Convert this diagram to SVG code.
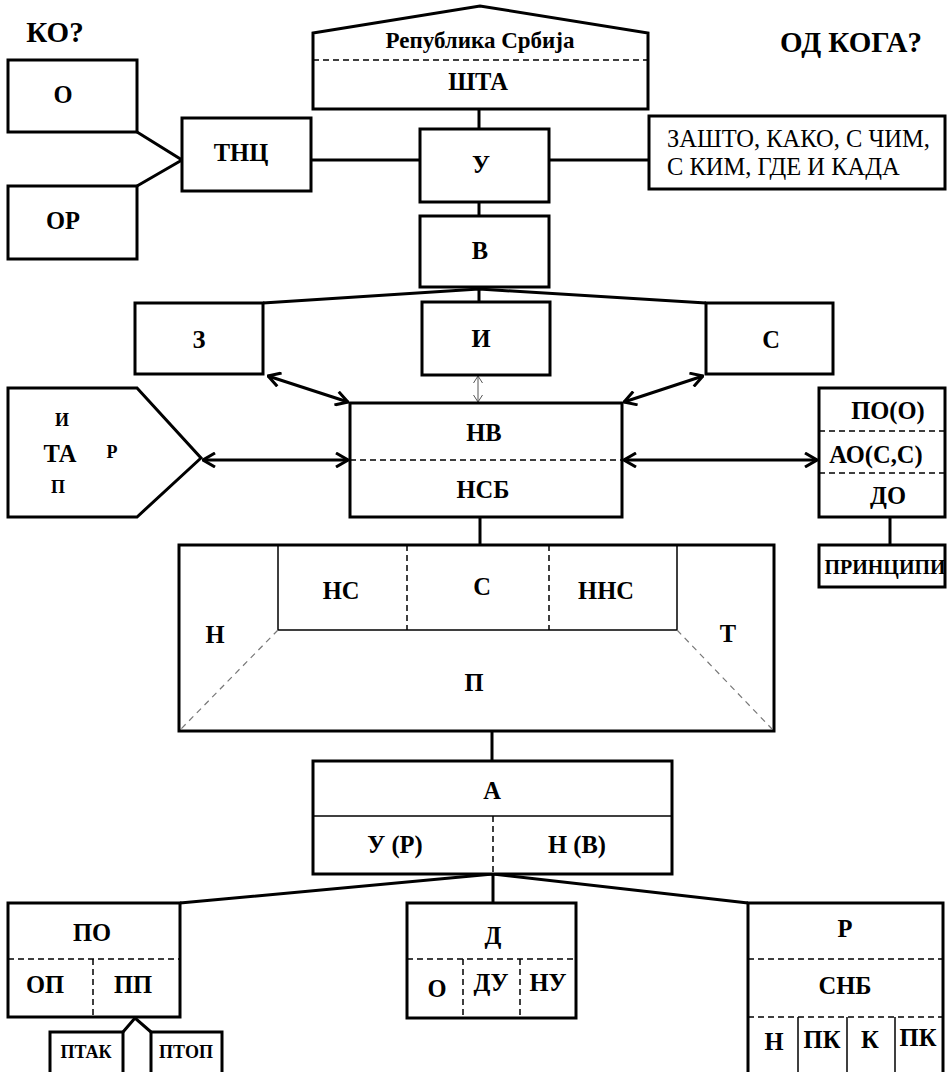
<svg xmlns="http://www.w3.org/2000/svg" width="948" height="1072" viewBox="0 0 948 1072">
<defs>
<style>
.box{fill:#fff;stroke:#000;stroke-width:3;stroke-linejoin:miter}
.thin{fill:none;stroke:#000;stroke-width:1.5}
.dash{fill:none;stroke:#000;stroke-width:1.5;stroke-dasharray:6 4}
.gdash{fill:none;stroke:#777;stroke-width:1.2;stroke-dasharray:6 5}
.conn{fill:none;stroke:#000;stroke-width:3}
.arr{fill:none;stroke:#000;stroke-width:3;marker-start:url(#ah);marker-end:url(#ah)}
.arrs{fill:none;stroke:#555;stroke-width:1;marker-start:url(#ahs);marker-end:url(#ahs)}
text{font-family:"Liberation Serif","Times New Roman",serif;font-weight:bold;font-size:24.5px;text-anchor:middle;fill:#000}
.sm{font-size:18px}
.xs{font-size:18px}
.big{font-size:29px}
.reg{font-weight:normal;font-size:24.5px;text-anchor:start}
</style>
<marker id="ah" viewBox="0 0 14 16" refX="13" refY="8" markerWidth="14" markerHeight="16" markerUnits="userSpaceOnUse" orient="auto-start-reverse"><path d="M1,1 L13,8 L1,15" fill="none" stroke="#000" stroke-width="3"/></marker>
<marker id="ahs" viewBox="0 0 8 10" refX="7.5" refY="5" markerWidth="8" markerHeight="10" markerUnits="userSpaceOnUse" orient="auto-start-reverse"><path d="M0.5,0.5 L7.5,5 L0.5,9.5" fill="none" stroke="#555" stroke-width="1"/></marker>
</defs>
<rect x="0" y="0" width="948" height="1072" fill="#fff"/>
<text class="big" x="55" y="42">КО?</text>
<text class="big" x="851" y="52">ОД КОГА?</text>

<g id="connectors">
<polyline class="conn" points="137,132 182,160 137,186"/>
<line class="conn" x1="311" y1="160" x2="420" y2="160"/>
<line class="conn" x1="479" y1="109" x2="479" y2="129"/>
<line class="conn" x1="549" y1="160" x2="649" y2="160"/>
<line class="conn" x1="479" y1="202" x2="479" y2="216"/>
<polyline class="conn" points="263,303 479,289 706,303"/>
<line class="conn" x1="479" y1="287" x2="479" y2="302"/>
<line class="arr" x1="268" y1="376" x2="348" y2="402"/>
<line class="arr" x1="703" y1="376" x2="624" y2="402"/>
<line class="arrs" x1="478" y1="376" x2="478" y2="402"/>
<line class="arr" x1="203" y1="460" x2="348" y2="460"/>
<line class="arr" x1="624" y1="460" x2="817" y2="460"/>
<line class="conn" x1="480" y1="517" x2="480" y2="545"/>
<line class="conn" x1="890" y1="517" x2="890" y2="545"/>
<line class="conn" x1="492" y1="731" x2="492" y2="761"/>
<polyline class="conn" points="180,903 493,874 748,903"/>
<line class="conn" x1="493" y1="874" x2="493" y2="903"/>
<polyline class="conn" points="123,1032 135,1018 151,1032"/>
</g>

<g id="n-republika">
<polygon class="box" points="313,33 480,6 648,33 648,109 313,109"/>
<line class="dash" x1="313" y1="60" x2="648" y2="60"/>
<text x="480" y="48" style="font-size:23px">Република Србија</text>
<text x="478" y="90">ШТА</text>
</g>
<g id="n-o"><rect class="box" x="8" y="60" width="129" height="72"/><text x="63" y="103">О</text></g>
<g id="n-or"><rect class="box" x="8" y="186" width="129" height="73"/><text x="63" y="229">ОР</text></g>
<g id="n-tnc"><rect class="box" x="182" y="118" width="129" height="73"/><text x="241" y="161">ТНЦ</text></g>
<g id="n-u"><rect class="box" x="420" y="129" width="129" height="73"/><text x="481" y="173">У</text></g>
<g id="n-v"><rect class="box" x="420" y="216" width="129" height="71"/><text x="480" y="259">В</text></g>
<g id="n-zasto"><rect class="box" x="649" y="116" width="296" height="73"/>
<text class="reg" x="667" y="147">ЗАШТО, КАКО, С ЧИМ,</text>
<text class="reg" x="667" y="175">С КИМ, ГДЕ И КАДА</text></g>
<g id="n-z"><rect class="box" x="135" y="303" width="128" height="71"/><text x="199" y="348">З</text></g>
<g id="n-i"><rect class="box" x="422" y="302" width="128" height="73"/><text x="481" y="347">И</text></g>
<g id="n-s"><rect class="box" x="706" y="303" width="127" height="71"/><text x="771" y="348">С</text></g>
<g id="n-nv"><rect class="box" x="350" y="403" width="272" height="114"/>
<line class="dash" x1="350" y1="460" x2="622" y2="460"/>
<text x="484" y="441">НВ</text><text x="483" y="498">НСБ</text></g>
<g id="n-ta"><polygon class="box" points="8,388 137,388 201,458 137,517 8,517"/>
<text class="sm" x="62" y="426">И</text>
<text x="60" y="462">ТА</text>
<text class="sm" x="112" y="458">Р</text>
<text class="sm" x="58" y="493">П</text></g>
<g id="n-po"><rect class="box" x="819" y="388" width="126" height="129"/>
<line class="dash" x1="819" y1="431" x2="945" y2="431"/>
<line class="dash" x1="819" y1="473" x2="945" y2="473"/>
<text x="888" y="419">ПО(О)</text>
<text x="876" y="463">АО(С,С)</text>
<text x="888" y="504">ДО</text></g>
<g id="n-principi"><rect class="box" x="819" y="545" width="126" height="42"/><text x="885" y="574" style="font-size:20px">ПРИНЦИПИ</text></g>
<g id="n-big"><rect class="box" x="179" y="545" width="595" height="186"/>
<polyline class="thin" points="278,545 278,630 677,630 677,545"/>
<line class="dash" x1="407" y1="545" x2="407" y2="630"/>
<line class="dash" x1="549" y1="545" x2="549" y2="630"/>
<line class="gdash" x1="278" y1="630" x2="181" y2="729"/>
<line class="gdash" x1="677" y1="630" x2="772" y2="729"/>
<text x="341" y="599">НС</text>
<text x="482" y="595">С</text>
<text x="606" y="599">ННС</text>
<text x="215" y="643">Н</text>
<text x="728" y="642">Т</text>
<text x="474" y="691">П</text></g>
<g id="n-a"><rect class="box" x="313" y="761" width="359" height="113"/>
<line class="thin" x1="313" y1="816" x2="672" y2="816"/>
<line class="dash" x1="493" y1="816" x2="493" y2="874"/>
<text x="492" y="799">А</text>
<text x="395" y="853">У (Р)</text>
<text x="577" y="853">Н (В)</text></g>
<g id="n-po2"><rect class="box" x="8" y="903" width="172" height="114"/>
<line class="dash" x1="8" y1="959" x2="180" y2="959"/>
<line class="dash" x1="93" y1="959" x2="93" y2="1017"/>
<text x="92" y="941">ПО</text>
<text x="45" y="993">ОП</text>
<text x="133" y="993">ПП</text></g>
<g id="n-ptak"><rect class="box" x="50" y="1032" width="73" height="60"/><text class="xs" x="86" y="1058">ПТАК</text></g>
<g id="n-ptop"><rect class="box" x="151" y="1032" width="71" height="60"/><text class="xs" x="186" y="1058">ПТОП</text></g>
<g id="n-d"><rect class="box" x="407" y="903" width="169" height="115"/>
<line class="dash" x1="407" y1="959" x2="576" y2="959"/>
<line class="dash" x1="463" y1="959" x2="463" y2="1018"/>
<line class="dash" x1="520" y1="959" x2="520" y2="1018"/>
<text x="493" y="944">Д</text>
<text x="437" y="997">О</text>
<text x="491" y="991">ДУ</text>
<text x="548" y="991">НУ</text></g>
<g id="n-r"><rect class="box" x="748" y="903" width="195" height="190"/>
<line class="dash" x1="748" y1="959" x2="943" y2="959"/>
<line class="dash" x1="748" y1="1017" x2="943" y2="1017"/>
<line class="thin" x1="798" y1="1017" x2="798" y2="1072"/>
<line class="thin" x1="847" y1="1017" x2="847" y2="1072"/>
<line class="thin" x1="895" y1="1017" x2="895" y2="1072"/>
<text x="845" y="937">Р</text>
<text x="845" y="994">СНБ</text>
<text x="774" y="1050">Н</text>
<text x="822" y="1048">ПК</text>
<text x="870" y="1048">К</text>
<text x="918" y="1046">ПК</text></g>
</svg>
